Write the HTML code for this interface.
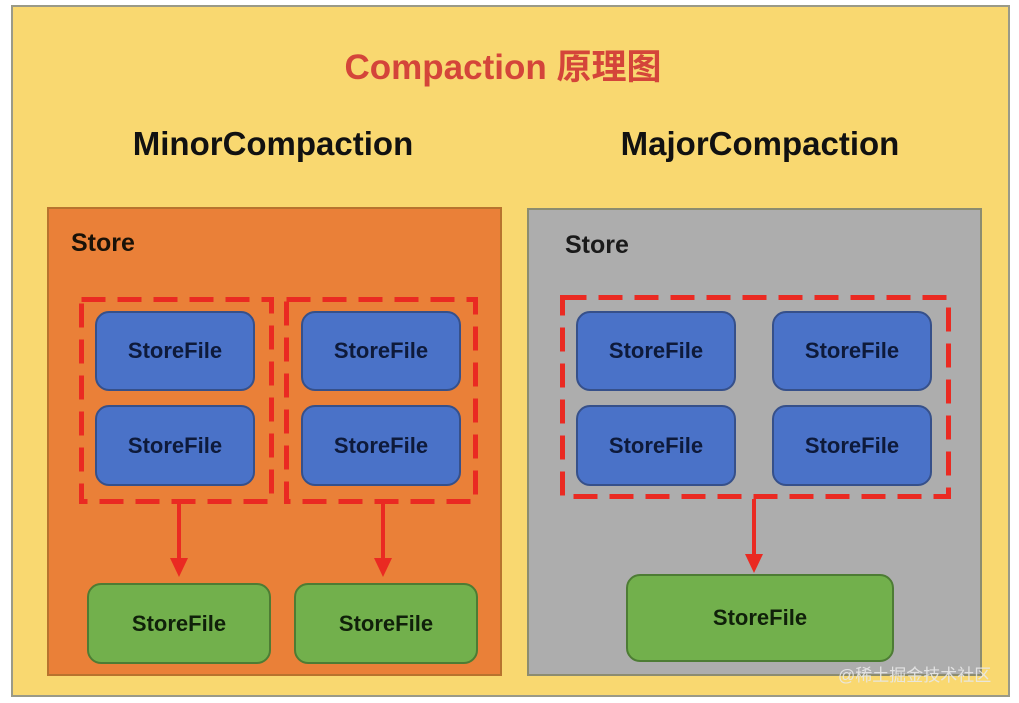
<!DOCTYPE html>
<html><head><meta charset="utf-8"><style>
*{margin:0;padding:0;box-sizing:border-box}
body{width:1019px;height:703px;background:#fff;position:relative;overflow:hidden;font-family:"Liberation Sans","Noto Sans CJK SC",sans-serif;font-weight:bold}
.a{position:absolute}
.frame{left:11px;top:5px;width:999px;height:692px;background:#f9d870;border:2px solid #9a9a88}
.t{text-align:center;white-space:nowrap}
.blue{background:#4a72c8;border:2px solid #36508a;border-radius:14px;color:#0e1a3a;font-size:22px;display:flex;align-items:center;justify-content:center}
.green{background:#72b04c;border:2px solid #4d7c34;border-radius:14px;color:#10200a;font-size:22px;display:flex;align-items:center;justify-content:center}
</style></head><body>
<div class="a frame"></div>
<div class="a t" style="left:0;width:1006px;top:39px;font-size:35px;color:#d4453a">Compaction 原理图</div>
<div class="a t" style="left:73px;width:400px;top:125px;font-size:33px;color:#111">MinorCompaction</div>
<div class="a t" style="left:560px;width:400px;top:125px;font-size:33px;color:#111">MajorCompaction</div>
<div class="a" style="left:47px;top:207px;width:455px;height:469px;background:#ea8038;border:2px solid #b8732e"></div>
<div class="a" style="left:527px;top:208px;width:455px;height:468px;background:#adadad;border:2px solid #8c8c70"></div>
<div class="a" style="left:71px;top:229px;font-size:25px;color:#1a1208">Store</div>
<div class="a" style="left:565px;top:231px;font-size:25px;color:#1a1a1a">Store</div>

<svg class="a" style="left:0;top:0" width="1019" height="703">
<g fill="none" stroke="#ea2a22" stroke-width="5" stroke-dasharray="24 12">
<rect x="81.5" y="299.5" width="190" height="202"/>
<rect x="286.5" y="299.5" width="189" height="202"/>
<rect x="562.5" y="297.5" width="386" height="199"/>
</g></svg>

<div class="a blue" style="left:95px;top:311px;width:160px;height:80px">StoreFile</div>
<div class="a blue" style="left:95px;top:405px;width:160px;height:81px">StoreFile</div>
<div class="a blue" style="left:301px;top:311px;width:160px;height:80px">StoreFile</div>
<div class="a blue" style="left:301px;top:405px;width:160px;height:81px">StoreFile</div>
<div class="a blue" style="left:576px;top:311px;width:160px;height:80px">StoreFile</div>
<div class="a blue" style="left:772px;top:311px;width:160px;height:80px">StoreFile</div>
<div class="a blue" style="left:576px;top:405px;width:160px;height:81px">StoreFile</div>
<div class="a blue" style="left:772px;top:405px;width:160px;height:81px">StoreFile</div>

<div class="a green" style="left:87px;top:583px;width:184px;height:81px">StoreFile</div>
<div class="a green" style="left:294px;top:583px;width:184px;height:81px">StoreFile</div>
<div class="a green" style="left:626px;top:574px;width:268px;height:88px">StoreFile</div>

<svg class="a" style="left:0;top:0" width="1019" height="703">
<g stroke="#ea2a22" stroke-width="4" fill="#ea2a22">
<line x1="179" y1="504" x2="179" y2="560"/><polygon points="170,558 188,558 179,577" stroke="none"/>
<line x1="383" y1="504" x2="383" y2="560"/><polygon points="374,558 392,558 383,577" stroke="none"/>
<line x1="754" y1="499" x2="754" y2="556"/><polygon points="745,554 763,554 754,573" stroke="none"/>
</g></svg>
<div class="a" style="left:838px;top:661px;font-size:17px;font-weight:normal;color:#e8e8e8;opacity:.9">@稀土掘金技术社区</div>
</body></html>
